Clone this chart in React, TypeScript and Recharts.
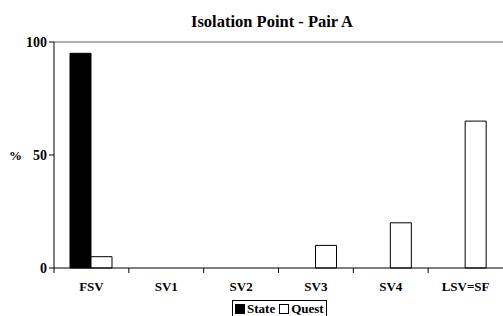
import React from 'react';
import { BarChart, Bar, XAxis, YAxis, Legend, ReferenceLine } from 'recharts';

const categories = ['FSV', 'SV1', 'SV2', 'SV3', 'SV4', 'LSV=SF'];
const stateValues = [95, 0, 0, 0, 0, 0];
const questValues = [5, 0, 0, 10, 20, 65];
const yTicks = [0, 50, 100];

const data = categories.map((name, i) => ({ name, State: stateValues[i], Quest: questValues[i] }));

const font = '"Liberation Serif", "Times New Roman", serif';

function CategoryTick(props: any) {
  const { x, y, payload } = props;
  const half = payload && payload.offset ? payload.offset : 37.4;
  return (
    <g>
      <line x1={x - half} y1={y - 8} x2={x - half} y2={y - 3} stroke="#000" />
      <text x={x} y={y + 15} textAnchor="middle" fontFamily={font} fontWeight="bold" fontSize={13} fill="#000">
        {payload.value}
      </text>
    </g>
  );
}

function LegendBox() {
  const sq = (fill: string) => (
    <span style={{ display: 'inline-block', width: 10, height: 10, background: fill, border: '1px solid #000', boxSizing: 'border-box', marginRight: 2 }} />
  );
  return (
    <div style={{ border: '1px solid #000', fontFamily: font, fontWeight: 'bold', fontSize: 13, lineHeight: '16px', padding: '0 2px', display: 'inline-flex', alignItems: 'center', whiteSpace: 'nowrap', background: '#fff' }}>
      {sq('#000')}<span style={{ marginRight: 4 }}>State</span>
      {sq('#fff')}<span>Quest</span>
    </div>
  );
}

export default function App() {
  return (
    <div style={{ position: 'absolute', left: 0, top: 0, width: 503, height: 316, background: '#fff', fontFamily: font }}>
      <div style={{ position: 'absolute', left: 0, width: 503, top: 12, textAlign: 'center', paddingLeft: 41, boxSizing: 'border-box', fontWeight: 'bold', fontSize: 16.5, lineHeight: '20px', color: '#000' }}>
        Isolation Point - Pair A
      </div>
      <BarChart
        width={503}
        height={316}
        data={data}
        margin={{ top: 42, right: 0, left: 0, bottom: 0 }}
        barCategoryGap={16}
        barGap={0}
      >
        <ReferenceLine y={100} stroke="#999" strokeWidth={1.5} />
        <XAxis
          dataKey="name"
          height={48}
          axisLine={{ stroke: '#000' }}
          tickLine={false}
          tick={<CategoryTick />}
          interval={0}
        />
        <YAxis
          width={54}
          domain={[0, 100]}
          ticks={yTicks}
          axisLine={{ stroke: '#000' }}
          tickLine={{ stroke: '#000' }}
          tickSize={5}
          tick={{ fontFamily: font, fontWeight: 'bold', fontSize: 14, fill: '#000' }}
          label={{ value: '%', position: 'insideLeft', offset: 9, fontFamily: font, fontWeight: 'bold', fontSize: 13, fill: '#000' }}
        />
        <Legend
          verticalAlign="middle"
          align="center"
          content={<LegendBox />}
          wrapperStyle={{ left: 232, top: 300, width: 'auto' }}
        />
        <Bar dataKey="State" fill="#000" stroke="#000" isAnimationActive={false} />
        <Bar dataKey="Quest" fill="#fff" stroke="#000" isAnimationActive={false} />
      </BarChart>
    </div>
  );
}
